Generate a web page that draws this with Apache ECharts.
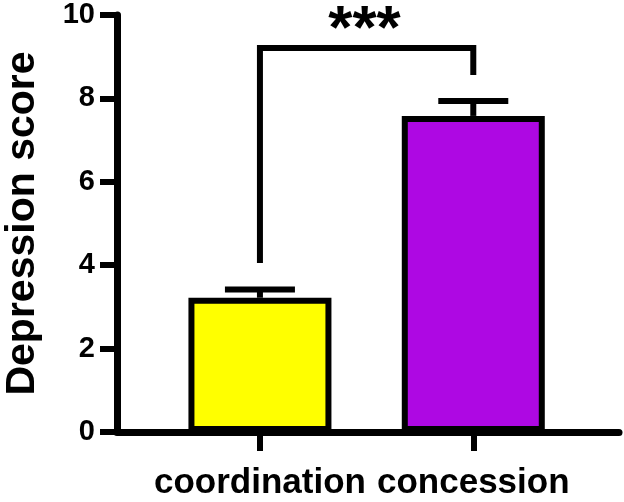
<!DOCTYPE html>
<html><head><meta charset="utf-8">
<script src="https://cdn.jsdelivr.net/npm/echarts@6/dist/echarts.min.js"></script>
<style>html,body{margin:0;padding:0;background:#fff}#c{width:624px;height:502px}</style>
</head><body><div id="c"></div>
<script>
const categories = ['coordination', 'concession'];
const positions = [1, 2];
const means = [3.22, 7.58];
const errorTops = [3.42, 7.94];
const barColors = ['#FFFF00', '#AE08E3'];
const yTicks = [0, 2, 4, 6, 8, 10];
const bracketX = [1, 2];
const bracketY = [4.05, 9.21, 8.56]; // left end, top, right end
const sigLabel = '***';
const sigPos = [1.49, 9.62];

const FONT = "'Liberation Sans', Arial, sans-serif";
const chart = echarts.init(document.getElementById('c'));

chart.setOption({
  animation: false,
  backgroundColor: '#fff',
  grid: { left: 117, right: 5, top: 15, bottom: 70, containLabel: false, outerBoundsMode: 'none' },
  xAxis: {
    type: 'value', min: 0.33, max: 2.683,
    axisLine: { show: true, lineStyle: { color: '#000', width: 7 } },
    axisTick: { show: true, customValues: positions, length: 19, lineStyle: { color: '#000', width: 6 } },
    axisLabel: {
      show: true, customValues: positions, margin: 34,
      formatter: v => categories[positions.indexOf(v)] || '',
      color: '#000', fontSize: 35, fontWeight: 'bold', fontFamily: FONT
    },
    splitLine: { show: false }
  },
  yAxis: {
    type: 'value', min: yTicks[0], max: yTicks[yTicks.length - 1], interval: 2,
    name: 'Depression score', nameLocation: 'middle', nameGap: 74,
    nameTextStyle: { color: '#000', fontSize: 41, fontWeight: 'bold', fontFamily: FONT },
    axisLine: { show: true, lineStyle: { color: '#000', width: 7 } },
    axisTick: { show: true, length: 17, lineStyle: { color: '#000', width: 6 } },
    axisLabel: { margin: 22, color: '#000', fontSize: 29, fontWeight: 'bold', fontFamily: FONT },
    splitLine: { show: false }
  },
  series: [
    {
      type: 'bar', barWidth: 143, z: 2,
      data: positions.map((p, i) => ({
        value: [p, means[i]],
        itemStyle: { color: barColors[i], borderColor: '#000', borderWidth: 6 }
      }))
    },
    {
      type: 'custom', z: 3,
      data: positions.map((p, i) => [p, means[i], errorTops[i]]),
      renderItem: (params, api) => {
        const x = api.value(0), lo = api.value(1), hi = api.value(2);
        const p0 = api.coord([x, lo]), p1 = api.coord([x, hi]);
        const half = 35;
        return { type: 'group', children: [
          { type: 'line', shape: { x1: p0[0], y1: p0[1], x2: p1[0], y2: p1[1] }, style: { stroke: '#000', lineWidth: 6 } },
          { type: 'line', shape: { x1: p1[0] - half, y1: p1[1], x2: p1[0] + half, y2: p1[1] }, style: { stroke: '#000', lineWidth: 6 } }
        ]};
      }
    },
    {
      type: 'custom', z: 4,
      data: [[bracketX[0], bracketX[1], bracketY[0], bracketY[1], bracketY[2]]],
      renderItem: (params, api) => {
        const a = api.coord([api.value(0), api.value(2)]);
        const b = api.coord([api.value(0), api.value(3)]);
        const c = api.coord([api.value(1), api.value(3)]);
        const d = api.coord([api.value(1), api.value(4)]);
        return { type: 'polyline', shape: { points: [a, b, c, d] },
          style: { stroke: '#000', lineWidth: 6, fill: null, lineJoin: 'miter' } };
      }
    },
    {
      type: 'custom', z: 5,
      data: [[sigPos[0], sigPos[1]]],
      renderItem: (params, api) => {
        const p = api.coord([api.value(0), api.value(1)]);
        return { type: 'text', x: p[0], y: p[1],
          style: { text: sigLabel, fill: '#000', font: 'bold 62px ' + FONT, align: 'center', verticalAlign: 'middle' } };
      }
    }
  ]
});
</script></body></html>
